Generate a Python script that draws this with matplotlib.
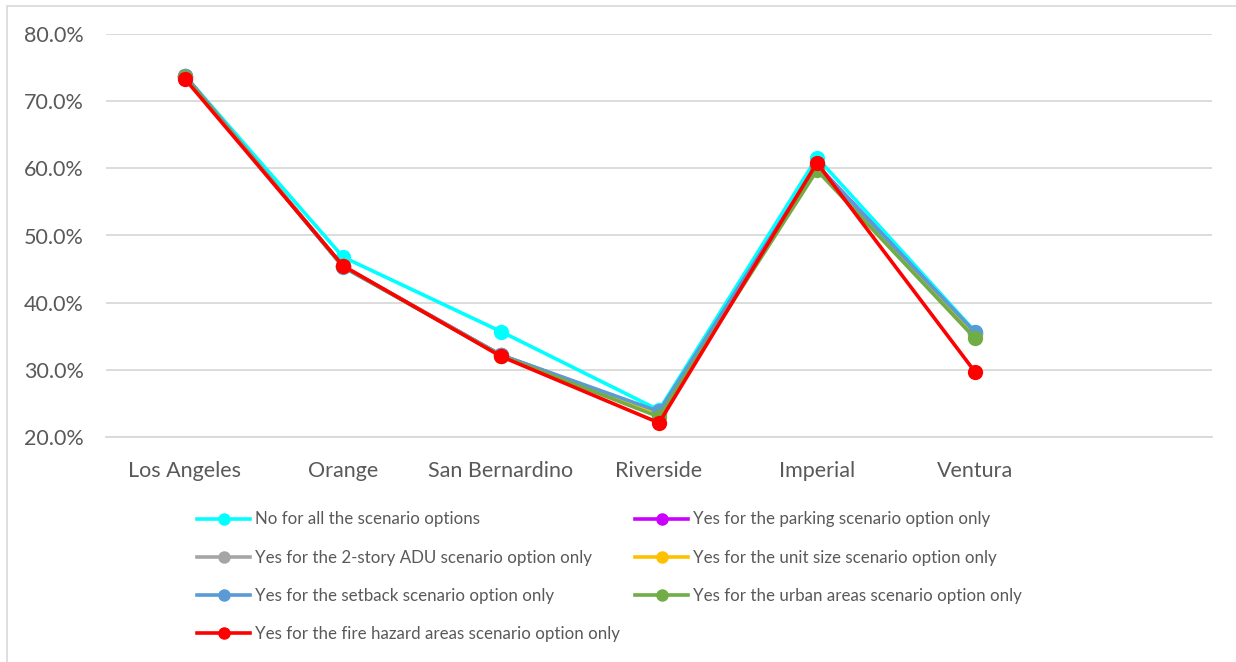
import matplotlib
matplotlib.use("Agg")
import matplotlib.pyplot as plt
from matplotlib.patches import Rectangle
from matplotlib.ticker import FuncFormatter

plt.rcParams['font.family'] = ['Lato', 'DejaVu Sans']

counties = ["Los Angeles", "Orange", "San Bernardino", "Riverside", "Imperial", "Ventura"]

series_names = [
    "No for all the scenario options",
    "Yes for the parking scenario option only",
    "Yes for the 2-story ADU scenario option only",
    "Yes for the unit size scenario option only",
    "Yes for the setback scenario option only",
    "Yes for the urban areas scenario option only",
    "Yes for the fire hazard areas scenario option only",
]

no_all      = [73.8, 46.8, 35.7, 24.0, 61.6, 35.7]
parking     = [73.8, 45.4, 32.2, 23.6, 60.5, 35.5]
two_story   = [73.8, 45.4, 32.2, 23.5, 60.3, 35.4]
unit_size   = [73.7, 45.4, 32.1, 23.3, 60.2, 35.2]
setback     = [73.8, 45.3, 32.2, 23.8, 60.4, 35.6]
urban_areas = [73.6, 45.4, 32.1, 23.0, 59.7, 34.7]
fire_hazard = [73.3, 45.5, 32.0, 22.1, 60.8, 29.7]

all_series = [no_all, parking, two_story, unit_size, setback, urban_areas, fire_hazard]
colors = ["#00FFFF", "#CC00FF", "#A5A5A5", "#FFC000", "#5B9BD5", "#70AD47", "#FF0000"]

W, H = 1236, 662
fig = plt.figure(figsize=(W / 100, H / 100), dpi=100)
ax = fig.add_axes([106 / W, 1 - 437 / H, (1212 - 106) / W, (437 - 34) / H])

# chart frame
fig.patches.append(Rectangle((7 / W, -0.1), 1.2, 1 - 6 / H + 0.1, transform=fig.transFigure,
                             fill=False, edgecolor="#D9D9D9", linewidth=1.2, zorder=0))

x = list(range(len(counties)))
for name, vals, c in zip(series_names, all_series, colors):
    ax.plot(x, vals, color=c, linewidth=2.6, marker="o", markersize=11,
            markeredgewidth=0, solid_joinstyle="round", label=name)

ax.set_xlim(-0.5, 6.5)
ax.set_ylim(20, 80)
ax.set_yticks([20, 30, 40, 50, 60, 70, 80])
ax.yaxis.set_major_formatter(FuncFormatter(lambda v, p: f"{v:.1f}%"))
ax.set_xticks(x)
ax.set_xticklabels(counties)

ax.grid(axis="y", color="#D9D9D9", linewidth=1.3)
ax.set_axisbelow(True)
for s in ["top", "right", "left"]:
    ax.spines[s].set_visible(False)
ax.spines["bottom"].set_color("#D9D9D9")
ax.spines["bottom"].set_linewidth(1.3)
ax.tick_params(axis="both", length=0, labelsize=15.5, labelcolor="#595959")
ax.tick_params(axis="x", pad=17)
ax.tick_params(axis="y", pad=16)

# legend entries run row by row across two columns
order = [0, 2, 4, 6, 1, 3, 5]
leg_handles = []
for i in order:
    (lh,) = ax.plot([], [], color=colors[i], linewidth=2.6, marker="o", markersize=9,
                    markeredgewidth=0)
    leg_handles.append(lh)
leg = fig.legend(leg_handles, [series_names[i] for i in order], ncol=2,
                 loc="upper left", bbox_to_anchor=(189 / W, 1 - 503 / H),
                 frameon=False, fontsize=12.2, handlelength=3.1, handletextpad=0.3,
                 columnspacing=0.9, labelspacing=1.3, borderpad=0)
for t in leg.get_texts():
    t.set_color("#595959")

fig.savefig("out.png", dpi=100)
